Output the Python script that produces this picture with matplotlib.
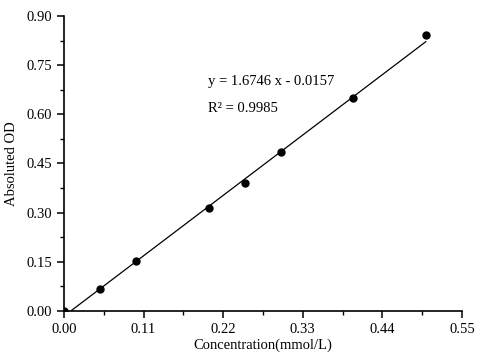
import matplotlib
matplotlib.use('Agg')
import matplotlib.pyplot as plt
from matplotlib.ticker import MultipleLocator, FormatStrFormatter
import numpy as np

conc = [0.0, 0.05, 0.10, 0.20, 0.25, 0.30, 0.40, 0.50]
od = [0.0, 0.067, 0.152, 0.314, 0.390, 0.485, 0.650, 0.842]
slope = 1.6746
intercept = -0.0157
r2 = 0.9985

plt.rcParams['font.family'] = ['Liberation Serif', 'DejaVu Serif']
plt.rcParams['font.size'] = 10.5

fig = plt.figure(figsize=(4.8, 3.6), dpi=100)
ax = fig.add_axes([0.1333, 0.1361, 0.8292, 0.8195])

ax.plot(conc, od, 'o', color='black', markersize=5, clip_on=True, zorder=3)
fit_x = np.array([0.0, max(conc)])
ax.plot(fit_x, slope * fit_x + intercept, color='black', linewidth=0.9)

ax.text(0.199, 0.699, 'y = %.4f x - %.4f' % (slope, abs(intercept)), va='center')
ax.text(0.199, 0.619, 'R\u00b2 = %.4f' % r2, va='center')

ax.set_xlim(0, 0.55)
ax.set_ylim(0, 0.90)
ax.xaxis.set_major_locator(MultipleLocator(0.11))
ax.xaxis.set_minor_locator(MultipleLocator(0.055))
ax.yaxis.set_major_locator(MultipleLocator(0.15))
ax.yaxis.set_minor_locator(MultipleLocator(0.075))
ax.xaxis.set_major_formatter(FormatStrFormatter('%.2f'))
ax.yaxis.set_major_formatter(FormatStrFormatter('%.2f'))
ax.spines['top'].set_visible(False)
ax.spines['right'].set_visible(False)
for s in ('left', 'bottom'):
    ax.spines[s].set_linewidth(1.2)
ax.tick_params(which='major', direction='out', length=5, width=1.1, labelsize=10.5)
ax.tick_params(which='minor', direction='out', length=3, width=1.0)

ax.set_xlabel('Concentration(mmol/L)', labelpad=2)
ax.set_ylabel('Absoluted OD', labelpad=6)

fig.savefig('out.png', dpi=100)
